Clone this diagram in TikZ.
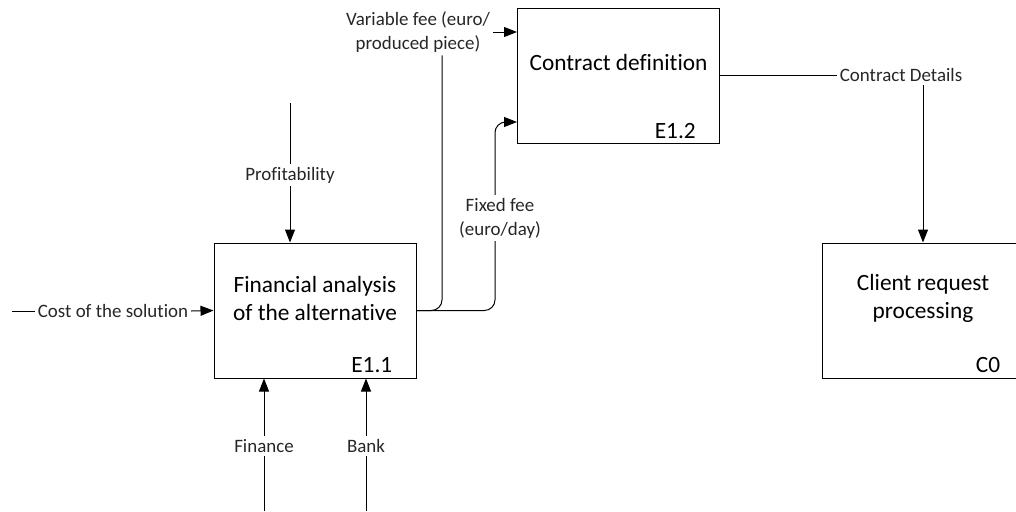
\documentclass[tikz,border=0pt]{standalone}
\usepackage{fontspec}
\setmainfont{Carlito}[Ligatures={NoCommon}]
\usetikzlibrary{arrows.meta,calc}
\definecolor{labelgray}{HTML}{262626}

\begin{document}
\begin{tikzpicture}[x=0.75pt,y=-0.75pt,
    proc/.style={draw, line width=0.75pt, minimum width=151.5pt, minimum height=101.25pt, inner sep=0pt},
    ptitle/.style={align=center, font=\fontsize{17.5}{21}\selectfont},
    pid/.style={anchor=base east, inner sep=0pt, font=\fontsize{17.5}{21}\selectfont},
    lbl/.style={align=center, inner sep=2pt, text=labelgray, font=\fontsize{14.2}{18}\selectfont},
    wire/.style={line width=0.75pt},
    flow/.style={wire, -{Triangle[length=9.75pt,width=7.5pt]}}]
  \clip (0,0) rectangle (1016,511);

  \node[proc] (fin) at (315,310.5) {};
  \node[ptitle] at (315,298) {Financial analysis\\of the alternative};
  \node[pid] at ($(fin.south east)+(-24,-6)$) {E1.1};

  \node[proc] (con) at (618.5,76) {};
  \node[ptitle] at (618.5,62) {Contract definition};
  \node[pid] at ($(con.south east)+(-24,-6)$) {E1.2};

  \node[proc] (cli) at (923,310.5) {};
  \node[ptitle] at (923,298) {Client request\\processing};
  \node[pid] at ($(cli.south east)+(-24,-6)$) {C0};

  \node[lbl] (cost) at (113,311) {Cost of the solution};
  \node[lbl] (prof) at (290,175) {Profitability};
  \node[lbl] (finance) at (264,446) {Finance};
  \node[lbl] (bank) at (366,446) {Bank};
  \node[lbl] (vfee) at (418,32) {Variable fee (euro/\\produced piece)};
  \node[lbl] (ffee) at (500,218) {Fixed fee\\(euro/day)};
  \node[lbl] (cdet) at (901,75) {Contract Details};

  \coordinate (costin) at (12,311);
  \coordinate (profin) at (290,103);
  \coordinate (finin) at (264,511);
  \coordinate (bankin) at (366,511);
  \coordinate (vx) at (442,0);
  \coordinate (fx) at (495,0);
  \coordinate (fxin) at ($(con.south west)+(0,-22)$);

  \begin{scope}[rounded corners=8]
    \draw[wire] (costin) -- (cost.west);
    \draw[flow] (cost.east) -- (fin.west);
    \draw[wire] (profin) -- (prof.north);
    \draw[flow] (prof.south) -- (prof.south |- fin.north);
    \draw[wire] (finin) -- (finance.south);
    \draw[flow] (finance.north) -- (finance.north |- fin.south);
    \draw[wire] (bankin) -- (bank.south);
    \draw[flow] (bank.north) -- (bank.north |- fin.south);
    \draw[wire] (fin.east) -| (vx |- vfee.south);
    \draw[flow] (vfee.east) -- (vfee.east -| con.west);
    \draw[wire] (fin.east) -| (fx |- ffee.south);
    \draw[flow] (fx |- ffee.north) |- (fxin);
    \draw[wire] (cdet.west -| con.east) -- (cdet.west);
    \draw[flow] (cli.north |- cdet.south) -- (cli.north);
  \end{scope}
\end{tikzpicture}
\end{document}
